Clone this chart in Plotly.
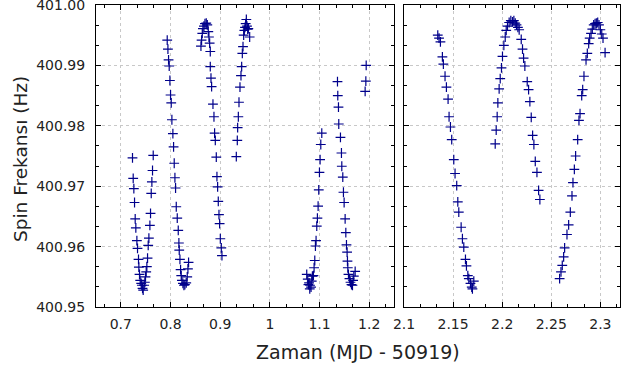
import plotly.graph_objects as go

# ---- Left panel data (MJD - 50919, Hz) ----
left_x = [
    # first dip
    0.7235, 0.7249, 0.7262, 0.7276, 0.7289, 0.7302, 0.7323, 0.7336, 0.7356, 0.7363,
    0.7376, 0.7390, 0.7410, 0.7423, 0.7437, 0.7450,
    0.7470, 0.7484, 0.7497, 0.7511, 0.7524, 0.7538, 0.7551, 0.7565, 0.7585, 0.7598,
    0.7612, 0.7625, 0.7638, 0.7652,
    # second descent
    0.7934, 0.7948, 0.7961, 0.7974, 0.7988, 0.8001, 0.8015, 0.8028, 0.8048, 0.8062,
    0.8075, 0.8089, 0.8102, 0.8116, 0.8136, 0.8156, 0.8169, 0.8176, 0.8190, 0.8203,
    0.8216, 0.8230, 0.8250, 0.8270, 0.8290, 0.8317, 0.8337, 0.8351, 0.8364,
    # peak and descent
    0.8613, 0.8626, 0.8640, 0.8653, 0.8673, 0.8694, 0.8720, 0.8741, 0.8761, 0.8774,
    0.8788, 0.8801, 0.8801, 0.8815, 0.8828, 0.8855, 0.8875, 0.8888, 0.8902, 0.8922,
    0.8935, 0.8949, 0.8962, 0.8976, 0.8989, 0.9003, 0.9023, 0.9036,
    # rise to peak
    0.9325, 0.9345, 0.9352, 0.9366, 0.9379, 0.9399, 0.9419, 0.9433, 0.9446, 0.9460,
    0.9473, 0.9487, 0.9500, 0.9513, 0.9527, 0.9540, 0.9554, 0.9567, 0.9594,
    # dip and rise
    1.0743, 1.0763, 1.0777, 1.0790, 1.0804, 1.0810, 1.0830, 1.0844, 1.0857, 1.0878,
    1.0891, 1.0905, 1.0918, 1.0931, 1.0945, 1.0958, 1.0972, 1.0985, 1.0999, 1.1012,
    1.1026, 1.1046,
    # descent
    1.1362, 1.1368, 1.1382, 1.1388, 1.1422, 1.1442, 1.1449, 1.1469, 1.1482, 1.1496,
    1.1516, 1.1530, 1.1543, 1.1556, 1.1563, 1.1570, 1.1583, 1.1603, 1.1624, 1.1644,
    1.1664, 1.1677, 1.1691, 1.1718,
    # last points
    1.1919, 1.1933, 1.1940,
]
left_y = [
    400.9747, 400.9713, 400.9696, 400.9673, 400.9646, 400.9631, 400.9610, 400.9597, 400.9579, 400.9566,
    400.9554, 400.9544, 400.9539, 400.9536, 400.9531, 400.9528,
    400.9536, 400.9541, 400.9550, 400.9558, 400.9567, 400.9581, 400.9602, 400.9614, 400.9635, 400.9655,
    400.9688, 400.9707, 400.9726, 400.9751,
    400.9942, 400.9927, 400.9909, 400.9899, 400.9875, 400.9851, 400.9838, 400.9810, 400.9787, 400.9765,
    400.9738, 400.9714, 400.9697, 400.9666, 400.9647, 400.9627, 400.9606, 400.9594, 400.9579, 400.9562,
    400.9552, 400.9544, 400.9539, 400.9536, 400.9537, 400.9540, 400.9550, 400.9563, 400.9574,
    400.9932, 400.9942, 400.9953, 400.9961, 400.9965, 400.9969, 400.9970, 400.9967, 400.9956, 400.9947,
    400.9937, 400.9923, 400.9898, 400.9879, 400.9865, 400.9836, 400.9815, 400.9788, 400.9776, 400.9748,
    400.9716, 400.9699, 400.9675, 400.9653, 400.9638, 400.9613, 400.9598, 400.9585,
    400.9749, 400.9776, 400.9797, 400.9815, 400.9839, 400.9864, 400.9883, 400.9898, 400.9920, 400.9931,
    400.9950, 400.9958, 400.9963, 400.9969, 400.9976, 400.9965, 400.9960, 400.9961, 400.9947,
    400.9554, 400.9546, 400.9537, 400.9540, 400.9530, 400.9536, 400.9533, 400.9543, 400.9551, 400.9552,
    400.9565, 400.9577, 400.9601, 400.9610, 400.9634, 400.9647, 400.9667, 400.9694, 400.9723, 400.9744,
    400.9769, 400.9788,
    400.9873, 400.9850, 400.9831, 400.9803, 400.9781, 400.9755, 400.9733, 400.9715, 400.9690, 400.9673,
    400.9646, 400.9623, 400.9603, 400.9591, 400.9576, 400.9565, 400.9554, 400.9547, 400.9541, 400.9537,
    400.9536, 400.9544, 400.9551, 400.9559,
    400.9857, 400.9874, 400.9900,
]

# ---- Right panel data ----
right_x = [
    # descent
    2.1344, 2.1357, 2.1371, 2.1391, 2.1401, 2.1418, 2.1432, 2.1449, 2.1459, 2.1473,
    2.1486, 2.1507, 2.1520, 2.1537, 2.1548, 2.1558, 2.1582, 2.1595, 2.1609, 2.1626,
    2.1636, 2.1650, 2.1660, 2.1677, 2.1690, 2.1697, 2.1711,
    # rise, peak, descent
    2.1929, 2.1939, 2.1949, 2.1956, 2.1969, 2.1980, 2.1993, 2.2003, 2.2017, 2.2031,
    2.2041, 2.2054, 2.2071, 2.2088, 2.2105, 2.2119, 2.2133, 2.2146, 2.2160, 2.2173,
    2.2194, 2.2207, 2.2218, 2.2231, 2.2255, 2.2269, 2.2282, 2.2296, 2.2310, 2.2323,
    2.2337, 2.2354, 2.2371, 2.2384,
    # rise and peak
    2.2585, 2.2599, 2.2612, 2.2626, 2.2636, 2.2660, 2.2677, 2.2694, 2.2711, 2.2721,
    2.2735, 2.2748, 2.2769, 2.2782, 2.2793, 2.2810, 2.2820, 2.2833, 2.2854, 2.2867,
    2.2881, 2.2891, 2.2905, 2.2918, 2.2932, 2.2946, 2.2959, 2.2973, 2.2986, 2.3000,
    2.3014, 2.3027, 2.3048,
]
right_y = [
    400.9950, 400.9945, 400.9939, 400.9914, 400.9902, 400.9882, 400.9864, 400.9844, 400.9815, 400.9798,
    400.9777, 400.9744, 400.9721, 400.9701, 400.9674, 400.9657, 400.9632, 400.9613, 400.9599, 400.9579,
    400.9568, 400.9552, 400.9547, 400.9539, 400.9533, 400.9530, 400.9543,
    400.9770, 400.9793, 400.9815, 400.9838, 400.9861, 400.9878, 400.9896, 400.9915, 400.9933, 400.9947,
    400.9958, 400.9965, 400.9971, 400.9974, 400.9972, 400.9974, 400.9970, 400.9967, 400.9963, 400.9959,
    400.9943, 400.9927, 400.9912, 400.9899, 400.9873, 400.9860, 400.9840, 400.9814, 400.9784, 400.9769,
    400.9741, 400.9723, 400.9693, 400.9678,
    400.9547, 400.9558, 400.9569, 400.9583, 400.9598, 400.9620, 400.9636, 400.9657, 400.9684, 400.9706,
    400.9728, 400.9750, 400.9777, 400.9809, 400.9820, 400.9850, 400.9860, 400.9882, 400.9909, 400.9920,
    400.9936, 400.9945, 400.9953, 400.9960, 400.9967, 400.9969, 400.9970, 400.9971, 400.9967, 400.9959,
    400.9952, 400.9945, 400.9921,
]

# ---- Tick labels ----
left_ticks = [0.7, 0.8, 0.9, 1.0, 1.1, 1.2]
left_ticktext = ["0.7", "0.8", "0.9", "1", "1.1", "1.2"]
right_ticks = [2.1, 2.15, 2.2, 2.25, 2.3]
right_ticktext = ["2.1", "2.15", "2.2", "2.25", "2.3"]
y_ticks = [400.95, 400.96, 400.97, 400.98, 400.99, 401.00]
y_ticktext = ["400.95", "400.96", "400.97", "400.98", "400.99", "401.00"]

x_title = "Zaman (MJD - 50919)"
y_title = "Spin Frekansı (Hz)"

marker = dict(symbol="cross-thin", size=7, color="#00008B",
              line=dict(color="#00008B", width=1.2))

fig = go.Figure()
fig.add_trace(go.Scatter(x=left_x, y=left_y, mode="markers", marker=marker,
                         xaxis="x", yaxis="y", showlegend=False))
fig.add_trace(go.Scatter(x=right_x, y=right_y, mode="markers", marker=marker,
                         xaxis="x2", yaxis="y2", showlegend=False))

font_family = "DejaVu Sans"
axis_common = dict(
    showline=True, linecolor="black", linewidth=1, mirror="ticks",
    ticks="inside", ticklen=5, tickcolor="black", tickwidth=1,
    showgrid=True, gridcolor="#c8c8c8", griddash="dot", gridwidth=1,
    zeroline=False, automargin=False, ticklabeloverflow="allow",
    tickfont=dict(family=font_family, size=14, color="#222"),
)
minor_common = dict(ticks="inside", ticklen=3, tickcolor="black", showgrid=False)

W, H = 626, 369
ml, mr, mt, mb = 96, 6, 5, 62
pw = W - ml - mr
ph = H - mt - mb
split_l = 298 / pw
split_r = 308 / pw

fig.update_layout(
    width=W, height=H,
    margin=dict(l=ml, r=mr, t=mt, b=mb, autoexpand=False),
    plot_bgcolor="white", paper_bgcolor="white",
    font=dict(family=font_family, color="#222"),
    xaxis=dict(domain=[0, split_l], range=[0.65, 1.25], anchor="y",
               tickmode="array", tickvals=left_ticks, ticktext=left_ticktext,
               minor=dict(dtick=0.1 / 3, tick0=0.7, **minor_common),
               ticklabelstandoff=4,
               **axis_common),
    xaxis2=dict(domain=[split_r, 1], range=[2.1, 2.32], anchor="y2",
                tickmode="array", tickvals=right_ticks, ticktext=right_ticktext,
                minor=dict(dtick=0.05 / 3, tick0=2.1, **minor_common),
                ticklabelstandoff=4,
                **axis_common),
    yaxis=dict(domain=[0, 1], range=[400.95, 401.00], anchor="x",
               tickmode="array", tickvals=y_ticks, ticktext=y_ticktext,
               minor=dict(dtick=0.01 / 3, tick0=400.95, **minor_common),
               ticklabelstandoff=7,
               **axis_common),
    yaxis2=dict(domain=[0, 1], range=[400.95, 401.00], anchor="x2", matches="y",
                tickmode="array", tickvals=y_ticks, showticklabels=False,
                minor=dict(dtick=0.01 / 3, tick0=400.95, **minor_common),
                **axis_common),
    annotations=[
        dict(text=x_title, xref="paper", yref="paper", x=0.5, y=-45 / ph,
             xanchor="center", yanchor="middle", showarrow=False,
             font=dict(family=font_family, size=19, color="#222")),
        dict(text=y_title, xref="paper", yref="paper", x=-76 / pw, y=0.49,
             xanchor="center", yanchor="middle", textangle=-90, showarrow=False,
             font=dict(family=font_family, size=18.5, color="#222")),
    ],
)

fig.write_html("out.html",
               config={"displayModeBar": False},
               post_script="document.body.style.margin='0';document.body.style.padding='0';")
